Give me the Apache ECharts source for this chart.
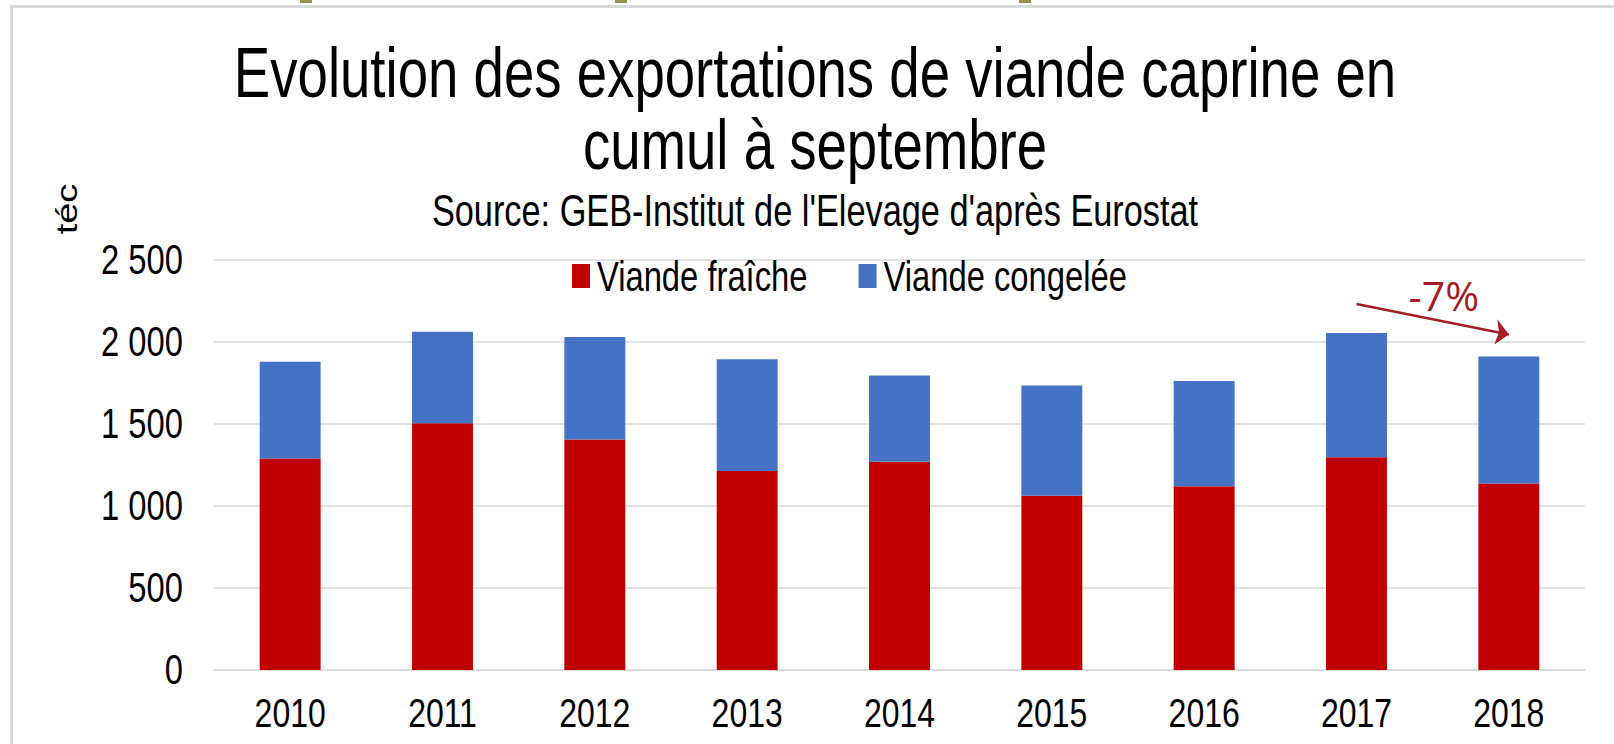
<!DOCTYPE html>
<html>
<head>
<meta charset="utf-8">
<script src="https://cdn.jsdelivr.net/npm/echarts@6/dist/echarts.min.js"></script>
<style>
html,body{margin:0;padding:0;background:#fff;overflow:hidden;width:1614px;height:744px;}
#wrap{width:1614px;height:744px;overflow:hidden;position:relative;}
#chart{height:744px;transform-origin:0 0;position:absolute;left:0;top:0;}
</style>
</head>
<body>
<div id="wrap"><div id="chart"></div></div>
<script>
// ---- data ----
var years = ['2010','2011','2012','2013','2014','2015','2016','2017','2018'];
var fresh = [1289, 1504, 1406, 1213, 1270, 1063, 1120, 1297, 1137];
var frozen = [590, 558, 625, 682, 525, 672, 642, 758, 775];
var seriesNames = ['Viande fraîche', 'Viande congelée'];
var yTicks = [0, 500, 1000, 1500, 2000, 2500];
var arrowFrom = ['2017', 2232];
var arrowTo = ['2018', 2046];
var changeLabel = '-7%';
var changeLabelAt = ['2018', 2284];

// The reference picture is horizontally squeezed; draw wide, then squeeze.
var R = 0.78;
var W = 1614 / R;
function X(v){ return v / R; }

var el = document.getElementById('chart');
el.style.width = W + 'px';
el.style.transform = 'scaleX(' + R + ')';

var FONT = '"Liberation Sans", Arial, sans-serif';

function fmt(v){ return String(v).replace(/\B(?=(\d{3})+(?!\d))/g, ' '); }

var frame = [
  {type: 'rect', shape: {x: X(10), y: 5, width: X(1604), height: 3}, style: {fill: '#D9D9D9'}, silent: true},
  {type: 'rect', shape: {x: X(10), y: 5, width: X(3), height: 739}, style: {fill: '#D9D9D9'}, silent: true},
  {type: 'rect', shape: {x: X(300), y: 0, width: X(12), height: 3}, style: {fill: '#A08C50'}, silent: true},
  {type: 'rect', shape: {x: X(615), y: 0, width: X(12), height: 3}, style: {fill: '#A08C50'}, silent: true},
  {type: 'rect', shape: {x: X(1019), y: 0, width: X(12), height: 3}, style: {fill: '#A08C50'}, silent: true},
  {type: 'text', x: X(67), y: 209, rotation: Math.PI / 2, silent: true,
    style: {text: 'téc', fontFamily: FONT, fontSize: 38, fill: '#000', textAlign: 'center', textVerticalAlign: 'middle'}}
];

var chart = echarts.init(el, null, {renderer:'svg', width: W, height: 744});
chart.setOption({
  animation: false,
  backgroundColor: '#fff',
  title: {
    text: 'Evolution des exportations de viande caprine en\ncumul à septembre',
    subtext: "Source: GEB-Institut de l'Elevage d'après Eurostat",
    left: X(815), textAlign: 'center', top: 36, padding: 0, itemGap: 9,
    textStyle: {fontFamily: FONT, fontSize: 70, lineHeight: 72, fontWeight: 'normal', color: '#000'},
    subtextStyle: {fontFamily: FONT, fontSize: 44, lineHeight: 42, color: '#000'}
  },
  legend: {
    data: seriesNames,
    left: X(572), top: 255, padding: 0,
    icon: 'rect', itemWidth: X(18), itemHeight: 24, itemGap: X(51),
    textStyle: {fontFamily: FONT, fontSize: 42, lineHeight: 40, color: '#000', padding: [0,0,0,X(3)]}
  },
  grid: {left: X(214), right: X(29), top: 260, bottom: 74, containLabel: false},
  xAxis: {
    type: 'category', data: years,
    axisLine: {show: true, lineStyle: {color: '#D9D9D9', width: 1.5}},
    axisTick: {show: false},
    axisLabel: {fontFamily: FONT, fontSize: 41, lineHeight: 40, color: '#000', margin: 23}
  },
  yAxis: {
    type: 'value', min: 0, max: 2500, interval: 500,
    axisLine: {show: false}, axisTick: {show: false},
    splitLine: {lineStyle: {color: '#D9D9D9', width: 1.5}},
    axisLabel: {fontFamily: FONT, fontSize: 42, color: '#000', margin: X(31),
      formatter: function(v){ return yTicks.indexOf(v) >= 0 ? fmt(v) : ''; }}
  },
  series: [
    {name: seriesNames[0], type: 'bar', stack: 'total', data: fresh, barWidth: '40%',
      itemStyle: {color: '#C00000'}},
    {name: seriesNames[1], type: 'bar', stack: 'total', data: frozen, barWidth: '40%',
      itemStyle: {color: '#4472C4'},
      markLine: {
        silent: true, animation: false,
        symbol: ['none', 'arrow'], symbolSize: [X(15), 17],
        lineStyle: {type: 'solid', width: 2.5, color: '#A51C24'},
        label: {show: false},
        data: [[{coord: arrowFrom}, {coord: arrowTo}]]
      }
    }
  ],
  graphic: frame
});

// "-7%" annotation, placed through the axes
var p = chart.convertToPixel({xAxisIndex: 0, yAxisIndex: 0}, changeLabelAt);
chart.setOption({
  graphic: frame.concat([
    {type: 'text', x: p[0] - X(65), y: p[1], scaleX: 1 / R, silent: true,
      style: {text: changeLabel, fontFamily: '"Open Sans", "Noto Sans", sans-serif', fontSize: 41,
        fill: '#A51C24', textAlign: 'center', textVerticalAlign: 'middle'}}
  ])
}, {replaceMerge: ['graphic']});
</script>
</body>
</html>
